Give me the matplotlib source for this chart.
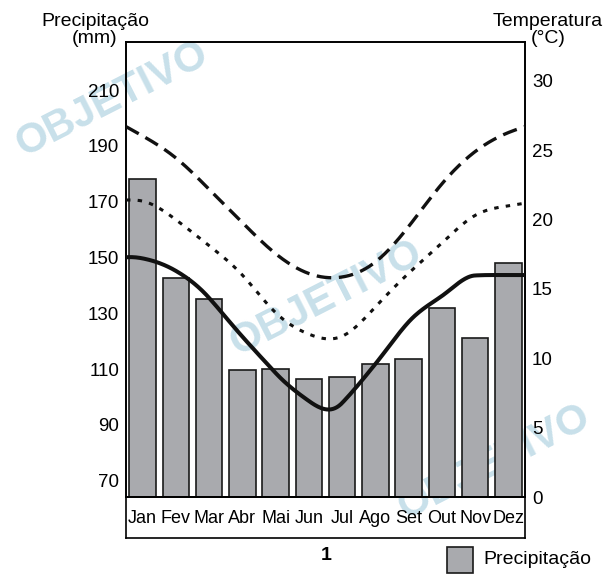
import numpy as np
import matplotlib
matplotlib.use('Agg')
import matplotlib.pyplot as plt
from matplotlib.patches import Rectangle

plt.rcParams['font.family'] = ['Liberation Sans', 'DejaVu Sans']
plt.rcParams['lines.scale_dashes'] = False

months = ['Jan', 'Fev', 'Mar', 'Abr', 'Mai', 'Jun', 'Jul', 'Ago', 'Set', 'Out', 'Nov', 'Dez']
precip = [178, 142.5, 135, 109.6, 110, 106.3, 107.2, 111.8, 113.6, 131.8, 121.3, 147.9]

# temperature curves: left edge, Jan..Dez, right edge
curve_pos = [-0.5, 0, 1, 2, 3, 4, 5, 6, 7, 8, 9, 10, 11, 11.5]
temp_solid = [17.28, 17.2, 16.3, 14.35, 11.56, 8.94, 6.92, 6.78, 9.59, 12.62, 14.49, 15.97, 16.0, 16.0]
temp_dash = [26.7, 26.03, 24.44, 22.18, 19.78, 17.54, 16.11, 15.86, 16.94, 19.5, 22.57, 24.9, 26.27, 26.7]
temp_dot = [21.41, 21.33, 19.99, 18.12, 16.0, 13.29, 11.74, 11.59, 13.7, 16.13, 18.3, 20.3, 20.99, 21.18]


def hermite(x, y, s, n=400):
    xs = np.linspace(x[0], x[-1], n)
    h = np.diff(x)
    k = np.clip(np.searchsorted(x, xs) - 1, 0, len(x) - 2)
    t = (xs - x[k]) / h[k]
    ys = ((2 * t ** 3 - 3 * t ** 2 + 1) * y[k] + (t ** 3 - 2 * t ** 2 + t) * h[k] * s[k]
          + (-2 * t ** 3 + 3 * t ** 2) * y[k + 1] + (t ** 3 - t ** 2) * h[k] * s[k + 1])
    return xs, ys


def spline(x, y):
    # natural cubic spline
    x = np.asarray(x, float)
    y = np.asarray(y, float)
    h = np.diff(x)
    m = len(x)
    A = np.zeros((m, m))
    b = np.zeros(m)
    A[0, 0] = 2 * h[0]
    A[0, 1] = h[0]
    b[0] = 3 * (y[1] - y[0])
    A[-1, -2] = h[-1]
    A[-1, -1] = 2 * h[-1]
    b[-1] = 3 * (y[-1] - y[-2])
    for i in range(1, m - 1):
        A[i, i - 1] = h[i]
        A[i, i] = 2 * (h[i - 1] + h[i])
        A[i, i + 1] = h[i - 1]
        b[i] = 3 * (h[i] * (y[i] - y[i - 1]) / h[i - 1] + h[i - 1] * (y[i + 1] - y[i]) / h[i])
    s = np.linalg.solve(A, b)
    return hermite(x, y, s)


def akima(x, y):
    x = np.asarray(x, float)
    y = np.asarray(y, float)
    d = np.diff(y) / np.diff(x)
    d = np.concatenate([[3 * d[0] - 2 * d[1], 2 * d[0] - d[1]], d,
                        [2 * d[-1] - d[-2], 3 * d[-1] - 2 * d[-2]]])
    s = np.zeros(len(x))
    for i in range(len(x)):
        m1, m2, m3, m4 = d[i], d[i + 1], d[i + 2], d[i + 3]
        w1, w2 = abs(m4 - m3), abs(m2 - m1)
        s[i] = (m2 + m3) / 2 if w1 + w2 == 0 else (w1 * m2 + w2 * m3) / (w1 + w2)
    return hermite(x, y, s)


fig = plt.figure(figsize=(6.03, 5.74), dpi=100)

# watermark
wm = '#c8e0ea'
for (wx, wy) in [(0.186, 0.826), (0.54, 0.48), (0.82, 0.195)]:
    fig.text(wx, wy, 'OBJETIVO', fontsize=30, fontweight='bold', color=wm,
             rotation=27, ha='center', va='center', zorder=-5)

ax = fig.add_axes([126 / 603, 77 / 574, 399 / 603, 455 / 574])
ax.patch.set_alpha(0)
x = np.arange(len(months))
ax.bar(x, precip, width=0.8, color='#a9aaae', edgecolor='#1a1a1a', linewidth=1.2, zorder=2)
ax.set_xlim(-0.5, 11.5)
ax.set_ylim(64.2, 227.2)
ax.set_yticks(range(70, 211, 20))
ax.set_xticks([])
ax.tick_params(axis='y', length=0, pad=5, labelsize=13.5)
for s in ax.spines.values():
    s.set_linewidth(1.2)

ax2 = ax.twinx()
ax2.set_ylim(0, 32.8)
ax2.set_yticks(range(0, 31, 5))
ax2.tick_params(axis='y', length=0, pad=5, labelsize=13.5)
for s in ax2.spines.values():
    s.set_linewidth(1.2)

xs, ys = spline(curve_pos, temp_dash)
ax2.plot(xs, ys, color='#111111', lw=2.4, linestyle=(0, (10.5, 5.5)), dash_capstyle='butt', zorder=3)
xs, ys = spline(curve_pos, temp_dot)
ax2.plot(xs, ys, color='#111111', lw=2.2, linestyle=(0, (3.2, 5.2)), dash_capstyle='butt', zorder=3)
xs, ys = akima(curve_pos, temp_solid)
ax2.plot(xs, ys, color='#111111', lw=2.9, zorder=4)

# month label box
axm = fig.add_axes([126 / 603, 36.5 / 574, 399 / 603, 40.5 / 574])
axm.patch.set_alpha(0)
axm.set_xlim(-0.5, 11.5)
axm.set_ylim(0, 1)
axm.set_xticks([])
axm.set_yticks([])
for s in axm.spines.values():
    s.set_linewidth(1.2)
for i, m in enumerate(months):
    axm.text(i, 0.47, m, ha='center', va='center', fontsize=13)

fig.text(95 / 603, 1 - 30 / 574, 'Precipitação\n(mm)', ha='center', va='center',
         fontsize=14, linespacing=1.0)
fig.text(548 / 603, 1 - 30 / 574, 'Temperatura\n(°C)', ha='center', va='center',
         fontsize=14, linespacing=1.0)
fig.text(326 / 603, 1 - 555 / 574, '1', ha='center', va='center', fontsize=14, fontweight='bold')

fig.patches.append(Rectangle((447 / 603, 1 - 573 / 574), 26 / 603, 26 / 574,
                             transform=fig.transFigure, facecolor='#a9aaae',
                             edgecolor='#1a1a1a', linewidth=1.2))
fig.text(483 / 603, 1 - 560 / 574, 'Precipitação', ha='left', va='center', fontsize=14)

plt.savefig('out.png', dpi=100)
